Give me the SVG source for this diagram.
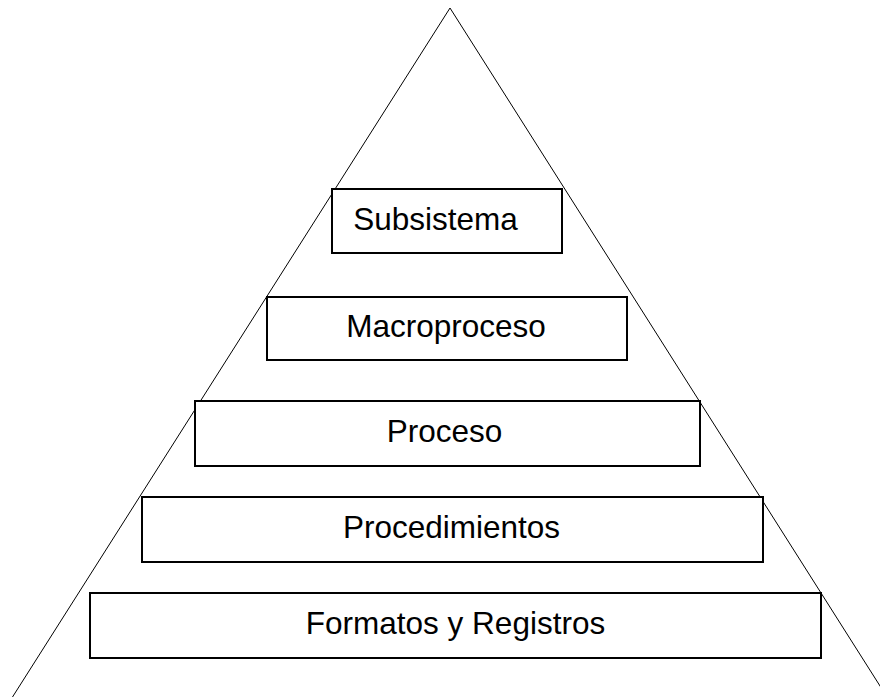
<svg xmlns="http://www.w3.org/2000/svg" width="880" height="697" viewBox="0 0 880 697">
  <style>
    .edge { fill: none; stroke: #000; stroke-width: 1; }
    .box { fill: #fff; stroke: #000; stroke-width: 2; }
    .label { font-family: "Liberation Sans", Arial, sans-serif; font-size: 31.5px; fill: #000; text-anchor: middle; }
  </style>
  <rect width="880" height="697" fill="#fff"/>
  <g id="connectors">
    <polyline class="edge" points="12.5,697 450,8 887,697"/>
  </g>
  <g id="subsistema">
    <rect class="box" x="332" y="189" width="230" height="64"/>
    <text class="label" x="435.5" y="230">Subsistema</text>
  </g>
  <g id="macroproceso">
    <rect class="box" x="267" y="297" width="360" height="63"/>
    <text class="label" x="446" y="337">Macroproceso</text>
  </g>
  <g id="proceso">
    <rect class="box" x="195" y="401" width="505" height="65"/>
    <text class="label" x="444.5" y="442">Proceso</text>
  </g>
  <g id="procedimientos">
    <rect class="box" x="142" y="497" width="621" height="65"/>
    <text class="label" x="451.5" y="538">Procedimientos</text>
  </g>
  <g id="formatos">
    <rect class="box" x="90" y="593" width="731" height="65"/>
    <text class="label" x="455.5" y="634">Formatos y Registros</text>
  </g>
</svg>
